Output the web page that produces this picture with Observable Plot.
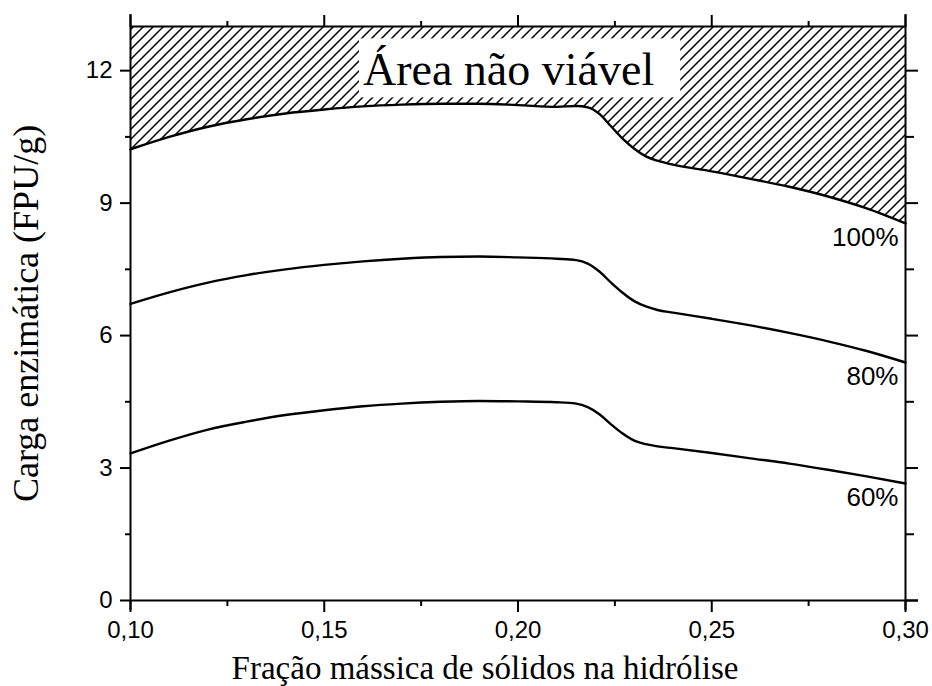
<!DOCTYPE html>
<html>
<head>
<meta charset="utf-8">
<script src="https://cdn.jsdelivr.net/npm/d3@7"></script>
<script src="https://cdn.jsdelivr.net/npm/@observablehq/plot@0.6"></script>
<style>
  html, body { margin: 0; padding: 0; background: #fff; }
  #chart svg { display: block; }
</style>
</head>
<body>
<div id="chart"></div>
<script>
// Fração mássica de sólidos (x) at which each curve is sampled
const solidsFraction = [0.10, 0.11, 0.12, 0.13, 0.14, 0.15, 0.16, 0.17, 0.18, 0.19, 0.20, 0.21, 0.215, 0.218, 0.221, 0.224, 0.227, 0.23, 0.233, 0.236, 0.24, 0.25, 0.26, 0.27, 0.28, 0.29, 0.30];

// Carga enzimática (FPU/g) for each conversion level
const load100 = [10.22, 10.50, 10.73, 10.90, 11.03, 11.12, 11.19, 11.23, 11.25, 11.25, 11.22, 11.18, 11.20, 11.17, 11.02, 10.74, 10.46, 10.23, 10.06, 9.96, 9.87, 9.72, 9.55, 9.37, 9.15, 8.88, 8.54];
const load80  = [6.72, 6.98, 7.20, 7.37, 7.50, 7.60, 7.68, 7.74, 7.78, 7.79, 7.77, 7.74, 7.71, 7.63, 7.45, 7.20, 6.97, 6.78, 6.66, 6.58, 6.52, 6.38, 6.23, 6.06, 5.87, 5.65, 5.39];
const load60  = [3.33, 3.62, 3.87, 4.05, 4.20, 4.31, 4.40, 4.46, 4.50, 4.52, 4.51, 4.49, 4.46, 4.38, 4.22, 3.99, 3.78, 3.62, 3.54, 3.49, 3.45, 3.34, 3.22, 3.10, 2.96, 2.81, 2.65];

const seriesNames = ["100%", "80%", "60%"];
const seriesLoads = [load100, load80, load60];

// Axis ticks
const xMajorTicks = [0.10, 0.15, 0.20, 0.25, 0.30];
const xMinorTicks = [0.125, 0.175, 0.225, 0.275];
const yMajorTicks = [0, 3, 6, 9, 12];
const yMinorTicks = [1.5, 4.5, 7.5, 10.5];
const xDomain = [0.10, 0.30];
const yDomain = [0, 13];

const xTitle = "Fração mássica de sólidos na hidrólise";
const yTitle = "Carga enzimática (FPU/g)";
const regionLabel = "Área não viável";

// Long-format rows built from the arrays above
const rows = seriesNames.flatMap((name, i) =>
  solidsFraction.map((x, j) => ({series: name, x, y: seriesLoads[i][j]}))
);
const rows100 = rows.filter(d => d.series === "100%");
const endRows = seriesNames.map((name, i) => ({
  series: name,
  x: solidsFraction[solidsFraction.length - 1],
  y: seriesLoads[i][solidsFraction.length - 1]
}));

const sans = "'Liberation Sans', Arial, Helvetica, sans-serif";
const serif = "'Liberation Serif', 'Times New Roman', Times, serif";
const comma = d => d.toFixed(2).replace(".", ",");
const blank = () => "";

const chart = Plot.plot({
  width: 932,
  height: 686,
  marginLeft: 130,
  marginRight: 27,
  marginTop: 26,
  marginBottom: 86,
  x: {domain: xDomain, axis: null},
  y: {domain: yDomain, axis: null},
  style: {fontFamily: sans, fontSize: "24px", color: "#000", background: "#fff", overflow: "visible"},
  marks: [
    // hatched infeasible region above the 100% curve
    Plot.areaY(rows100, {x: "x", y1: "y", y2: () => yDomain[1], fill: "url(#hatch)", curve: "monotone-x"}),
    // region label (its white box is added after rendering)
    Plot.text([regionLabel], {
      x: 0.16, y: 12, text: d => d, textAnchor: "start",
      fontFamily: serif, fontSize: 46, fill: "#000", className: "region-label"
    }),
    // curves
    Plot.lineY(rows, {x: "x", y: "y", z: "series", stroke: "#000", strokeWidth: 2.4, curve: "monotone-x"}),
    // curve labels at the right end
    Plot.text(endRows, {
      x: "x", y: "y", text: "series", textAnchor: "end", dx: -7, dy: 14,
      lineAnchor: "middle", fontFamily: sans, fontSize: 26, fill: "#000"
    }),
    // frame lines, extended past the corners
    Plot.ruleX([xDomain[0], xDomain[1]], {stroke: "#000", strokeWidth: 2, insetTop: -12, insetBottom: -10}),
    Plot.ruleY([yDomain[0]], {stroke: "#000", strokeWidth: 2, insetRight: -13}),
    Plot.ruleY([yDomain[1]], {stroke: "#000", strokeWidth: 2}),
    // bottom axis
    Plot.axisX(xMajorTicks, {anchor: "bottom", tickSize: 12, tickPadding: 8, tickFormat: comma, label: null, strokeWidth: 2, fontSize: 24}),
    Plot.axisX(xMinorTicks, {anchor: "bottom", tickSize: 6, tickFormat: blank, label: null, strokeWidth: 2}),
    // top axis (ticks only)
    Plot.axisX(xMajorTicks, {anchor: "top", tickSize: 12, tickFormat: blank, label: null, strokeWidth: 2}),
    Plot.axisX(xMinorTicks, {anchor: "top", tickSize: 6, tickFormat: blank, label: null, strokeWidth: 2}),
    // left axis
    Plot.axisY(yMajorTicks, {anchor: "left", tickSize: 10, tickPadding: 8, tickFormat: d => String(d), label: null, strokeWidth: 2, fontSize: 24}),
    Plot.axisY(yMinorTicks, {anchor: "left", tickSize: 5, tickFormat: blank, label: null, strokeWidth: 2}),
    // right axis (ticks only)
    Plot.axisY(yMajorTicks, {anchor: "right", tickSize: 12, tickFormat: blank, label: null, strokeWidth: 2}),
    Plot.axisY(yMinorTicks, {anchor: "right", tickSize: 8, tickFormat: blank, label: null, strokeWidth: 2}),
    // axis titles
    Plot.text([xTitle], {frameAnchor: "bottom", text: d => d, dx: -33, dy: 68, lineAnchor: "middle", fontFamily: serif, fontSize: 33, fill: "#000"}),
    Plot.text([yTitle], {frameAnchor: "left", text: d => d, dx: -104, rotate: -90, textAnchor: "middle", lineAnchor: "middle", fontFamily: serif, fontSize: 36, fill: "#000"})
  ]
});

// diagonal hatch pattern used by the infeasible region
const ns = "http://www.w3.org/2000/svg";
const defs = document.createElementNS(ns, "defs");
const step = 10;
defs.innerHTML =
  `<pattern id="hatch" patternUnits="userSpaceOnUse" width="${step}" height="${step}">` +
  `<path d="M0,${step} L${step},0 M-2,2 L2,-2 M${step - 2},${step + 2} L${step + 2},${step - 2}" stroke="#000" stroke-width="1.5"/>` +
  `</pattern>`;
chart.insertBefore(defs, chart.firstChild);

document.getElementById("chart").appendChild(chart);

// white box behind the region label
const labelGroup = chart.querySelector(".region-label");
if (labelGroup) {
  const bb = labelGroup.getBBox();
  const rect = document.createElementNS(ns, "rect");
  rect.setAttribute("x", bb.x - 4);
  rect.setAttribute("y", bb.y - 6);
  rect.setAttribute("width", bb.width + 30);
  rect.setAttribute("height", bb.height + 8);
  rect.setAttribute("fill", "#fff");
  labelGroup.insertBefore(rect, labelGroup.firstChild);
}
</script>
</body>
</html>
